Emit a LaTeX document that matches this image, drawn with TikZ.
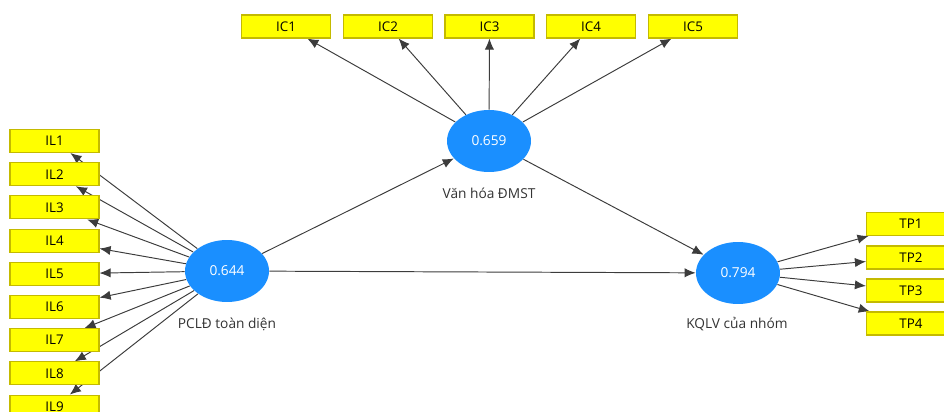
\documentclass[tikz,border=0pt]{standalone}
\usepackage{fontspec}
\setmainfont{Open Sans}
\usetikzlibrary{arrows.meta}
\usetikzlibrary{shapes.geometric}
\pgfdeclarelayer{edgelayer}
\pgfdeclarelayer{nodelayer}
\pgfsetlayers{edgelayer,nodelayer,main}
\definecolor{boxfill}{RGB}{255,255,0}
\definecolor{boxline}{RGB}{196,186,0}
\definecolor{lvfill}{RGB}{26,143,255}
\definecolor{edgegrey}{RGB}{60,60,60}
\tikzstyle{none}=[inner sep=0pt,text=black!80,font=\fontsize{7.8}{9}\selectfont]
\tikzstyle{indicator}=[rectangle,fill=boxfill,draw=boxline,line width=0.6pt,minimum width=1.78cm,minimum height=0.46cm,inner sep=0pt,font=\fontsize{7.6}{9}\selectfont]
\tikzstyle{construct}=[ellipse,fill=lvfill,draw=none,minimum width=1.68cm,minimum height=1.24cm,inner sep=0pt,text=white,font=\fontsize{7.8}{9}\selectfont]
\tikzstyle{loading}=[-{Latex[length=6.3pt,width=5.3pt]},draw=edgegrey,line width=0.55pt]

\begin{document}
\begin{tikzpicture}[x=0.02cm,y=-0.02cm]
	\useasboundingbox (0,0) rectangle (944,412);
	\begin{pgfonlayer}{nodelayer}
		\node [style=construct] (0) at (227, 271) {0.644};
		\node [style=construct] (1) at (489, 141) {0.659};
		\node [style=construct] (2) at (738, 273) {0.794};
		\node [style=none] (3) at (227, 324) {PCLĐ toàn diện};
		\node [style=none] (4) at (489, 193) {Văn hóa ĐMST};
		\node [style=none] (5) at (737, 324) {KQLV của nhóm};
		\node [style=indicator] (6) at (54.5, 141) {IL1};
		\node [style=indicator] (7) at (54.5, 174.2) {IL2};
		\node [style=indicator] (8) at (54.5, 207.4) {IL3};
		\node [style=indicator] (9) at (54.5, 240.6) {IL4};
		\node [style=indicator] (10) at (54.5, 273.8) {IL5};
		\node [style=indicator] (11) at (54.5, 307) {IL6};
		\node [style=indicator] (12) at (54.5, 340.2) {IL7};
		\node [style=indicator] (13) at (54.5, 373.4) {IL8};
		\node [style=indicator] (14) at (54.5, 406.6) {IL9};
		\node [style=indicator] (15) at (286, 26.5) {IC1};
		\node [style=indicator] (16) at (388, 26.5) {IC2};
		\node [style=indicator] (17) at (489.5, 26.5) {IC3};
		\node [style=indicator] (18) at (591, 26.5) {IC4};
		\node [style=indicator] (19) at (693, 26.5) {IC5};
		\node [style=indicator] (20) at (911, 224) {TP1};
		\node [style=indicator] (21) at (911, 257.5) {TP2};
		\node [style=indicator] (22) at (911, 290.5) {TP3};
		\node [style=indicator] (23) at (911, 323.5) {TP4};
	\end{pgfonlayer}
	\begin{pgfonlayer}{edgelayer}
		\draw [style=loading] (0) to (1);
		\draw [style=loading] (0) to (2);
		\draw [style=loading] (1) to (2);
		\draw [style=loading] (0) to (6);
		\draw [style=loading] (0) to (7);
		\draw [style=loading] (0) to (8);
		\draw [style=loading] (0) to (9);
		\draw [style=loading] (0) to (10);
		\draw [style=loading] (0) to (11);
		\draw [style=loading] (0) to (12);
		\draw [style=loading] (0) to (13);
		\draw [style=loading] (0) to (14);
		\draw [style=loading] (1) to (15);
		\draw [style=loading] (1) to (16);
		\draw [style=loading] (1) to (17);
		\draw [style=loading] (1) to (18);
		\draw [style=loading] (1) to (19);
		\draw [style=loading] (2) to (20);
		\draw [style=loading] (2) to (21);
		\draw [style=loading] (2) to (22);
		\draw [style=loading] (2) to (23);
	\end{pgfonlayer}
\end{tikzpicture}
\end{document}
